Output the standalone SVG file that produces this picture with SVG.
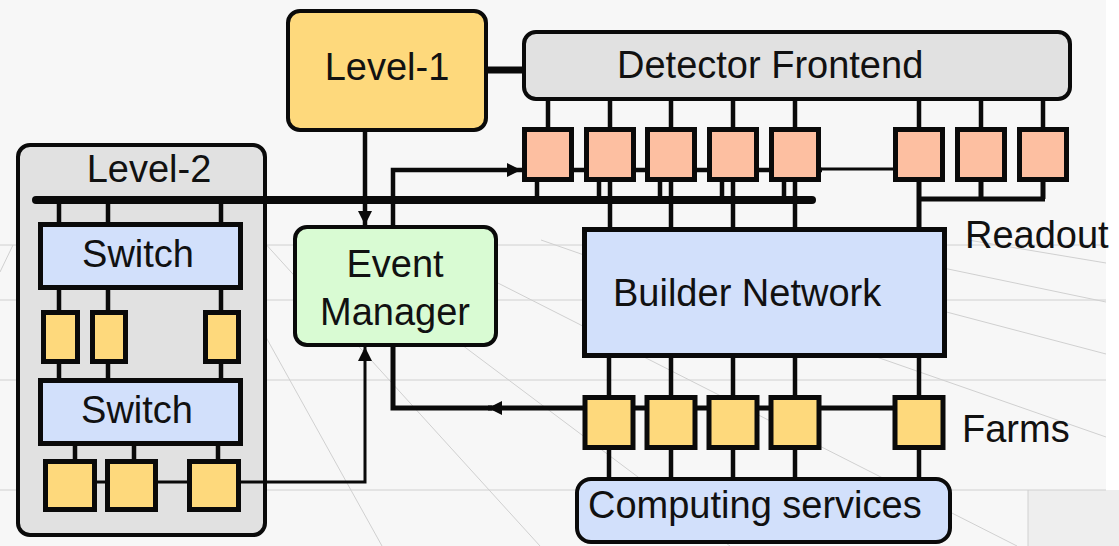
<svg xmlns="http://www.w3.org/2000/svg" width="1119" height="546" viewBox="0 0 1119 546">
  <style>
    .lbl { font-family: "Liberation Sans", Arial, sans-serif; font-size: 38px; fill: #111; }
    .mid { text-anchor: middle; }
    .bg-line { stroke: #d0d0d0; stroke-width: 1; fill: none; }
    .box { stroke: #0a0a0a; stroke-width: 5; }
    .rbox { stroke: #0a0a0a; stroke-width: 4; }
    .yellow { fill: #fed97c; }
    .gray { fill: #e1e1e1; }
    .pink { fill: #fdbfa1; }
    .green { fill: #d9fbd3; }
    .blue { fill: #d2e0fb; }
    .wire { stroke: #0a0a0a; stroke-width: 4.5; fill: none; }
    .thin { stroke: #0a0a0a; stroke-width: 3; fill: none; }
    .thick { stroke: #0a0a0a; stroke-width: 5; fill: none; }
    .bus { stroke: #0a0a0a; stroke-width: 8; stroke-linecap: round; fill: none; }
  </style>
  <defs>
    <marker id="arrow" markerUnits="userSpaceOnUse" viewBox="0 0 12 12" refX="12" refY="6" markerWidth="14" markerHeight="14" orient="auto">
      <path d="M0,0 L12,6 L0,12 z" fill="#0a0a0a"/>
    </marker>
  </defs>

  <!-- background -->
  <g id="background">
    <rect x="0" y="0" width="1119" height="546" fill="#f7f7f7"/>
    <rect x="1106" y="0" width="13" height="490" fill="#ffffff"/>
    <rect x="1028" y="490" width="91" height="56" fill="#eeeeee"/>
    <line class="bg-line" x1="1028" y1="490" x2="1028" y2="546"/>
    <line class="bg-line" x1="0" y1="245" x2="1106" y2="245"/>
    <line class="bg-line" x1="0" y1="300" x2="1106" y2="300"/>
    <line class="bg-line" x1="0" y1="380" x2="1106" y2="380"/>
    <line class="bg-line" x1="0" y1="490" x2="1106" y2="490"/>
    <line class="bg-line" x1="968" y1="240" x2="1106" y2="263"/>
    <line class="bg-line" x1="809" y1="240" x2="1106" y2="302"/>
    <line class="bg-line" x1="673" y1="240" x2="1106" y2="354"/>
    <line class="bg-line" x1="541" y1="240" x2="1106" y2="437"/>
    <line class="bg-line" x1="413" y1="240" x2="1017" y2="546"/>
    <line class="bg-line" x1="322" y1="240" x2="730" y2="546"/>
    <line class="bg-line" x1="262" y1="240" x2="540" y2="546"/>
    <line class="bg-line" x1="212" y1="240" x2="382" y2="546"/>
    <line class="bg-line" x1="13" y1="245" x2="0" y2="272"/>
  </g>

  <!-- Level-2 container (drawn under the bus) -->
  <g id="level2">
    <rect class="rbox gray" x="18" y="145" width="247" height="390" rx="12"/>
    <text class="lbl mid" x="149" y="182">Level-2</text>
  </g>

  <!-- connectors -->
  <g id="connectors">
    <line x1="486" y1="70" x2="523" y2="70" stroke="#0a0a0a" stroke-width="7"/>
    <line class="bus" x1="36" y1="200" x2="812" y2="200"/>
    <path class="wire" d="M59,200 V222 M108,200 V222 M221,200 V222"/>
    <path class="wire" d="M59,290 V310 M108,290 V310 M221,290 V310"/>
    <path class="wire" d="M59,364 V378 M108,364 V378 M221,364 V378"/>
    <path class="wire" d="M75,446 V459 M134,446 V459 M218,446 V459"/>
    <path class="thin" d="M97,482 H365 V347" marker-end="url(#arrow)"/>
    <line class="wire" x1="365" y1="131" x2="365" y2="225" marker-end="url(#arrow)"/>
    <path class="wire" d="M393,225 V170 H521" marker-end="url(#arrow)"/>
    <line class="wire" x1="521" y1="170" x2="822" y2="170"/>
    <line class="thin" x1="820" y1="169" x2="895" y2="169"/>
    <path class="wire" d="M548,100 V127 M610,100 V127 M671,100 V127 M733,100 V127 M795,100 V127 M919,100 V127 M981,100 V127 M1043,100 V127"/>
    <path class="wire" d="M537,182 V200 M599,182 V200 M660,182 V200 M722,182 V200 M784,182 V200"/>
    <path class="wire" d="M610,182 V227 M671,182 V227 M733,182 V227 M795,182 V227"/>
    <path class="thick" d="M919,182 V227 M981,182 V199 M1043,182 V199 M917,199 H1045"/>
    <path class="wire" d="M609,358 V395 M671,358 V395 M733,358 V395 M795,358 V395 M919,358 V395"/>
    <path class="wire" d="M609,450 V477 M671,450 V477 M733,450 V477 M795,450 V477 M919,450 V477"/>
    <line class="thick" x1="895" y1="408" x2="488" y2="408" marker-end="url(#arrow)"/>
    <path class="thick" d="M492,408 H393 V346"/>
  </g>

  <g id="level1">
    <rect class="rbox yellow" x="288" y="11" width="198" height="119" rx="12"/>
    <text class="lbl mid" x="387" y="80">Level-1</text>
  </g>

  <g id="detector-frontend">
    <rect class="rbox gray" x="524" y="32" width="546" height="67" rx="12"/>
    <text class="lbl" x="617" y="78">Detector Frontend</text>
  </g>

  <g id="readout-units">
    <rect class="box pink" x="524.5" y="129.5" width="47" height="50"/>
    <rect class="box pink" x="586.5" y="129.5" width="47" height="50"/>
    <rect class="box pink" x="647.5" y="129.5" width="47" height="50"/>
    <rect class="box pink" x="709.5" y="129.5" width="47" height="50"/>
    <rect class="box pink" x="771.5" y="129.5" width="47" height="50"/>
    <rect class="box pink" x="895.5" y="129.5" width="47" height="50"/>
    <rect class="box pink" x="957.5" y="129.5" width="47" height="50"/>
    <rect class="box pink" x="1019.5" y="129.5" width="47" height="50"/>
  </g>

  <g id="readout-label">
    <text class="lbl" x="965" y="248">Readout</text>
  </g>

  <g id="switch1">
    <rect class="box blue" x="40.5" y="224.5" width="200" height="63"/>
    <text class="lbl mid" x="138" y="267">Switch</text>
  </g>

  <g id="level2-nodes">
    <rect class="box yellow" x="43.5" y="312.5" width="34" height="49"/>
    <rect class="box yellow" x="92.5" y="312.5" width="33" height="49"/>
    <rect class="box yellow" x="205.5" y="312.5" width="33" height="49"/>
  </g>

  <g id="switch2">
    <rect class="box blue" x="40.5" y="380.5" width="200" height="63"/>
    <text class="lbl mid" x="137" y="423">Switch</text>
  </g>

  <g id="level2-outputs">
    <rect class="box yellow" x="45.5" y="461.5" width="49" height="48"/>
    <rect class="box yellow" x="107.5" y="461.5" width="48" height="48"/>
    <rect class="box yellow" x="189.5" y="461.5" width="49" height="48"/>
  </g>

  <g id="event-manager">
    <rect class="rbox green" x="295" y="227" width="201" height="118" rx="12"/>
    <text class="lbl mid" x="395" y="277">Event</text>
    <text class="lbl mid" x="395" y="325">Manager</text>
  </g>

  <g id="builder-network">
    <rect class="box blue" x="584.5" y="229.5" width="360" height="126"/>
    <text class="lbl" x="613" y="306">Builder Network</text>
  </g>

  <g id="farms">
    <rect class="box yellow" x="585" y="397.5" width="48" height="50"/>
    <rect class="box yellow" x="647" y="397.5" width="48" height="50"/>
    <rect class="box yellow" x="709" y="397.5" width="48" height="50"/>
    <rect class="box yellow" x="771" y="397.5" width="48" height="50"/>
    <rect class="box yellow" x="895" y="397.5" width="48" height="50"/>
  </g>

  <g id="farms-label">
    <text class="lbl" x="962" y="442">Farms</text>
  </g>

  <g id="computing-services">
    <rect class="rbox blue" x="577" y="479" width="373" height="63" rx="14"/>
    <text class="lbl" x="588" y="518">Computing services</text>
  </g>
</svg>
